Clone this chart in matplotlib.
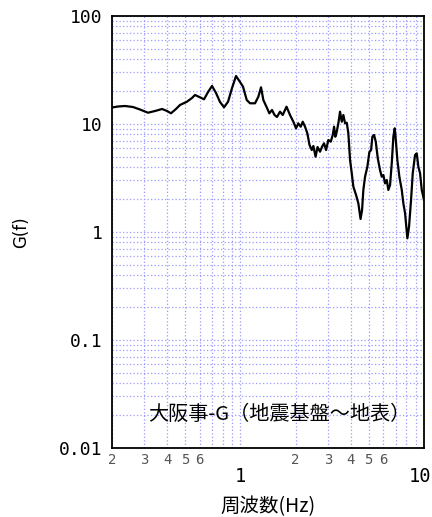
import matplotlib
matplotlib.use("Agg")
import matplotlib.pyplot as plt
from matplotlib.ticker import NullFormatter
from matplotlib.transforms import ScaledTranslation

# Spectral ratio G(f), seismic bedrock to ground surface
freq = [0.200, 0.2156, 0.235, 0.260, 0.284, 0.314, 0.343, 0.375, 0.399, 0.419,
        0.446, 0.469, 0.512, 0.545, 0.566, 0.603, 0.634, 0.667, 0.701, 0.737,
        0.775, 0.815, 0.857, 0.901, 0.947, 0.996, 1.034, 1.083, 1.129, 1.202,
        1.253, 1.296, 1.334, 1.397, 1.438, 1.487, 1.535, 1.583, 1.644, 1.701,
        1.784, 1.864, 1.943, 2.010, 2.068, 2.132, 2.186, 2.250, 2.316, 2.380,
        2.448, 2.498, 2.568, 2.632, 2.716, 2.786, 2.856, 2.928, 3.014, 3.106,
        3.185, 3.238, 3.290, 3.349, 3.417, 3.490, 3.566, 3.638, 3.717, 3.796,
        3.873, 3.957, 4.042, 4.124, 4.266, 4.391, 4.514, 4.600, 4.675, 4.775,
        4.916, 5.040, 5.150, 5.234, 5.346, 5.462, 5.602, 5.760, 5.888, 6.008,
        6.138, 6.270, 6.396, 6.534, 6.674, 6.810, 6.930, 7.045, 7.161, 7.343,
        7.567, 7.720, 7.888, 8.118, 8.290, 8.500, 8.684, 8.938, 9.131, 9.316,
        9.518, 9.722, 10.0]
gain = [14.22, 14.52, 14.68, 14.37, 13.62, 12.72, 13.19, 13.77, 13.19, 12.56,
        13.77, 15.00, 16.09, 17.40, 18.56, 17.67, 16.93, 19.79, 22.49, 19.37,
        15.98, 14.28, 16.09, 21.54, 27.83, 24.48, 22.15, 16.68, 15.55, 15.55,
        17.89, 21.87, 16.68, 14.06, 12.56, 13.48, 12.12, 11.61, 13.00, 12.12,
        14.46, 12.12, 10.50, 9.125, 10.15, 9.44, 10.50, 9.44, 8.20, 6.39,
        5.74, 6.26, 4.98, 6.12, 5.54, 6.17, 6.63, 5.74, 7.11, 6.86,
        7.91, 9.44, 7.63, 8.49, 10.15, 13.00, 10.50, 12.12, 10.15, 10.28,
        8.20, 4.64, 3.50, 2.63, 2.20, 1.84, 1.32, 1.60, 2.45, 3.25,
        4.02, 5.50, 5.74, 7.63, 7.91, 6.86, 4.81, 3.75, 3.25, 3.37,
        2.82, 3.03, 2.45, 2.72, 4.33, 7.63, 9.12, 6.63, 4.64, 3.25,
        2.45, 1.84, 1.49, 0.874, 1.12, 1.98, 3.50, 5.16, 5.35, 4.02,
        3.50, 2.45, 1.98]

y_ticks = [100, 10, 1, 0.1, 0.01]
y_tick_labels = ["100", "10", "1", "0.1", "0.01"]
x_major = [1, 10]
x_major_labels = ["1", "10"]
x_minor = [0.2, 0.3, 0.4, 0.5, 0.6, 0.7, 0.8, 0.9, 2, 3, 4, 5, 6, 7, 8, 9]
x_minor_labels = ["2", "3", "4", "5", "6", "", "", "", "2", "3", "4", "5", "6", "", "", ""]
y_minor = [m * 10.0 ** e for e in (-2, -1, 0, 1) for m in range(2, 10)]

title_text = "大阪事-G（地震基盤～地表）"
x_label = "周波数(Hz)"
y_label = "G(f)"

cjk = ["Noto Sans CJK JP", "DejaVu Sans"]
mono = ["DejaVu Sans Mono"]

fig = plt.figure(figsize=(4.32, 5.17), dpi=100)
ax = fig.add_axes([112 / 432, 1 - 448 / 517, 312 / 432, 432 / 517])
ax.set_xscale("log")
ax.set_yscale("log")
ax.set_xlim(0.2, 10)
ax.set_ylim(0.01, 100)

grid_kw = dict(color="#9a9aff", linestyle=(0, (1, 1.8)), linewidth=0.9)
ax.set_yticks(y_ticks)
ax.set_yticklabels(y_tick_labels, fontfamily=mono, fontsize=13)
ax.set_yticks(y_minor, minor=True)
ax.yaxis.set_minor_formatter(NullFormatter())
ax.set_xticks(x_major)
ax.set_xticklabels(x_major_labels, fontfamily=mono, fontsize=13.5)
ax.set_xticks(x_minor, minor=True)
ax.set_xticklabels(x_minor_labels, minor=True, fontfamily=mono, fontsize=10, color="#555555")
ax.tick_params(axis="both", which="both", length=0)
ax.tick_params(axis="x", which="major", pad=14)
ax.tick_params(axis="x", which="minor", pad=3.5)
ax.tick_params(axis="y", which="major", pad=7)
ax.grid(True, which="both", **grid_kw)
ax.set_axisbelow(True)

# keep the right-hand "10" inside the figure
for lbl in ax.get_xticklabels():
    if lbl.get_text() == "10":
        lbl.set_transform(lbl.get_transform() + ScaledTranslation(-3 / 72, 0, fig.dpi_scale_trans))

for s in ax.spines.values():
    s.set_linewidth(1.3)
    s.set_color("black")

ax.plot(freq, gain, color="black", linewidth=1.6)

ax.text(0.535, 0.077, title_text, transform=ax.transAxes, ha="center", va="center",
        fontfamily=cjk, fontsize=14.5)
fig.text(268 / 432, 1 - 507 / 517, x_label, ha="center", va="center",
         fontfamily=cjk, fontsize=14)
fig.text(21 / 432, 1 - 232 / 517, y_label, ha="center", va="center", rotation=90,
         fontfamily=["DejaVu Sans"], fontsize=12)

fig.savefig("out.png", dpi=100, facecolor="white")
